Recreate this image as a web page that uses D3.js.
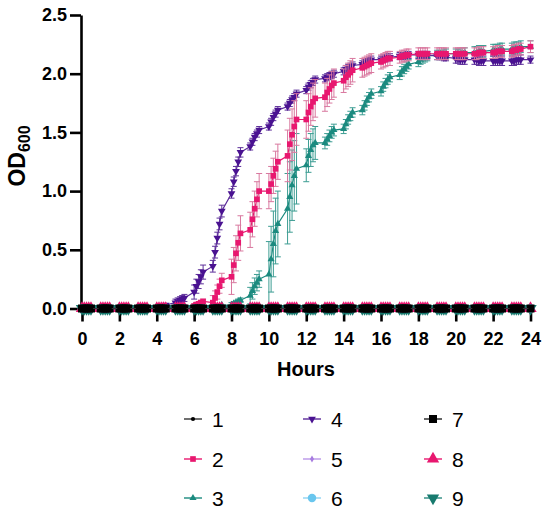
<!DOCTYPE html>
<html>
<head>
<meta charset="utf-8">
<script src="https://cdn.jsdelivr.net/npm/d3@7"></script>
<style>
  body { margin: 0; background: #fff; }
  svg { font-family: Arial, "Liberation Sans", sans-serif; }
</style>
</head>
<body>
<svg id="chart" width="550" height="516"></svg>
<script>
// Read times: one cluster of readings at the start of every hour.
const readHours = [0, 1, 2, 3, 4, 5, 6, 7, 8, 9, 10, 11, 12, 13, 14, 15, 16, 17, 18, 19, 20, 21, 22, 23, 24];
const readOffsets = [0, 0.12, 0.24, 0.36, 0.48];

const hourTicks = [0, 2, 4, 6, 8, 10, 12, 14, 16, 18, 20, 22, 24];
const odTicks = [0, 0.5, 1.0, 1.5, 2.0, 2.5];

// OD600 per hourly cluster, series 2 (pink)
const od2 = [
  [0, 0, 0, 0, 0], [0, 0, 0, 0, 0], [0, 0, 0, 0, 0], [0, 0, 0, 0, 0], [0, 0, 0, 0, 0],
  [0, 0, 0.01, 0.01, 0.01],
  [0.02, 0.03, 0.04, 0.05, 0.06],
  [0.05, 0.09, 0.14, 0.19, 0.24],
  [0.27, 0.37, 0.47, 0.56, 0.64],
  [0.67, 0.76, 0.85, 0.93, 1.00],
  [1.00, 1.06, 1.13, 1.19, 1.25],
  [1.30, 1.40, 1.48, 1.55, 1.61],
  [1.61, 1.67, 1.72, 1.76, 1.79],
  [1.80, 1.84, 1.87, 1.90, 1.92],
  [1.94, 1.97, 1.99, 2.01, 2.03],
  [2.05, 2.06, 2.07, 2.08, 2.09],
  [2.10, 2.11, 2.12, 2.13, 2.13],
  [2.14, 2.15, 2.15, 2.16, 2.16],
  [2.17, 2.17, 2.17, 2.17, 2.17],
  [2.17, 2.17, 2.17, 2.17, 2.17],
  [2.17, 2.17, 2.17, 2.17, 2.17],
  [2.17, 2.17, 2.18, 2.18, 2.18],
  [2.18, 2.18, 2.19, 2.19, 2.19],
  [2.19, 2.20, 2.20, 2.21, 2.21],
  [2.23]
];
const sd2 = [0, 0, 0, 0, 0, 0.01, 0.02, 0.06, 0.15, 0.15, 0.15, 0.22, 0.16, 0.12, 0.10,
  0.08, 0.06, 0.05, 0.05, 0.05, 0.05, 0.05, 0.05, 0.05, 0.05];

// series 3 (teal)
const od3 = [
  [0, 0, 0, 0, 0], [0, 0, 0, 0, 0], [0, 0, 0, 0, 0], [0, 0, 0, 0, 0], [0, 0, 0, 0, 0],
  [0, 0, 0, 0, 0], [0, 0, 0, 0, 0],
  [0, 0.01, 0.01, 0.02, 0.03],
  [0.03, 0.04, 0.05, 0.06, 0.07],
  [0.11, 0.15, 0.19, 0.22, 0.25],
  [0.29, 0.42, 0.55, 0.66, 0.72],
  [0.85, 0.95, 1.05, 1.13, 1.19],
  [1.22, 1.30, 1.35, 1.39, 1.41],
  [1.41, 1.44, 1.47, 1.50, 1.52],
  [1.53, 1.57, 1.61, 1.64, 1.67],
  [1.69, 1.73, 1.77, 1.80, 1.83],
  [1.85, 1.89, 1.92, 1.95, 1.97],
  [1.99, 2.02, 2.04, 2.06, 2.08],
  [2.10, 2.12, 2.13, 2.14, 2.15],
  [2.16, 2.16, 2.16, 2.17, 2.17],
  [2.17, 2.17, 2.17, 2.18, 2.18],
  [2.18, 2.18, 2.19, 2.19, 2.19],
  [2.20, 2.20, 2.20, 2.21, 2.21],
  [2.21, 2.22, 2.22, 2.22, 2.23],
  [2.23]
];
const sd3 = [0, 0, 0, 0, 0, 0, 0, 0.01, 0.02, 0.07, 0.28, 0.30, 0.14, 0.05, 0.04,
  0.04, 0.04, 0.04, 0.04, 0.04, 0.04, 0.05, 0.05, 0.05, 0.05];

// series 4 (purple)
const od4 = [
  [0, 0, 0, 0, 0], [0, 0, 0, 0, 0], [0, 0, 0, 0, 0],
  [0, 0, 0, 0.005, 0.005],
  [0.01, 0.01, 0.02, 0.02, 0.03],
  [0.05, 0.06, 0.07, 0.08, 0.09],
  [0.14, 0.19, 0.23, 0.27, 0.31],
  [0.36, 0.48, 0.60, 0.72, 0.83],
  [0.98, 1.08, 1.17, 1.25, 1.33],
  [1.38, 1.42, 1.46, 1.49, 1.52],
  [1.55, 1.59, 1.63, 1.66, 1.69],
  [1.72, 1.75, 1.78, 1.80, 1.83],
  [1.86, 1.89, 1.91, 1.93, 1.95],
  [1.96, 1.97, 1.98, 1.99, 2.00],
  [2.02, 2.04, 2.05, 2.06, 2.07],
  [2.08, 2.09, 2.10, 2.11, 2.12],
  [2.12, 2.13, 2.13, 2.14, 2.14],
  [2.15, 2.15, 2.15, 2.16, 2.16],
  [2.16, 2.16, 2.16, 2.16, 2.16],
  [2.15, 2.15, 2.15, 2.14, 2.14],
  [2.13, 2.13, 2.12, 2.12, 2.12],
  [2.12, 2.12, 2.11, 2.11, 2.11],
  [2.11, 2.11, 2.11, 2.11, 2.11],
  [2.11, 2.11, 2.12, 2.12, 2.12],
  [2.12]
];
const sd4 = [0, 0, 0, 0.005, 0.01, 0.03, 0.06, 0.05, 0.04, 0.03, 0.03, 0.03, 0.03, 0.03, 0.03,
  0.03, 0.03, 0.03, 0.03, 0.03, 0.04, 0.04, 0.04, 0.04, 0.03];

// controls 1, 5, 6, 7, 8, 9 stay flat at zero
const controlOD = [0, 0, 0, 0, 0, 0, 0, 0, 0, 0, 0, 0, 0, 0, 0, 0, 0, 0, 0, 0, 0, 0, 0, 0, 0];

const legendNames = ['1', '2', '3', '4', '5', '6', '7', '8', '9'];

// Look of every series (marker, size, colours)
const styles = {
  '1': { symbol: d3.symbolCircle, size: 14, color: '#000000', line: '#333333', bar: '#333333' },
  '2': { symbol: d3.symbolSquare, size: 32, color: '#e8176f', line: '#e8176f', bar: '#d9789f' },
  '3': { symbol: d3.symbolTriangle, size: 22, color: '#1b8a7f', line: '#1b8a7f', bar: '#3d9d93' },
  '4': { symbol: d3.symbolTriangle, size: 26, color: '#4a1291', line: '#5b2a9a', bar: '#5d2f99', flip: true },
  '5': { symbol: d3.symbolDiamond, size: 14, color: '#a77ce0', line: '#b995e8', bar: '#b995e8' },
  '6': { symbol: d3.symbolCircle, size: 56, color: '#69c6ee', line: '#8fd3f2', bar: '#8fd3f2' },
  '7': { symbol: d3.symbolSquare, size: 64, color: '#000000', line: '#222222', bar: '#222222' },
  '8': { symbol: d3.symbolTriangle, size: 66, color: '#e8176f', line: '#e8176f', bar: '#e8176f' },
  '9': { symbol: d3.symbolTriangle, size: 66, color: '#177a6e', line: '#2b8a80', bar: '#2b8a80', flip: true }
};

const svg = d3.select('#chart');

const x = d3.scaleLinear().domain([0, 24]).range([82, 530.5]);
const y = d3.scaleLinear().domain([0, 2.5]).range([308.5, 15]);

// Turn the hourly clusters into single readings.
function readings(values, sd) {
  return readHours.flatMap((h, i) => {
    const level = values[i];
    const cluster = Array.isArray(level) ? level : readOffsets.slice(0, h === 24 ? 1 : 5).map(() => level);
    return cluster.map((v, j) => ({ t: h + readOffsets[j], v: v, sd: sd ? sd[i] : 0 }));
  });
}

const series = {
  '1': readings(controlOD),
  '2': readings(od2, sd2),
  '3': readings(od3, sd3),
  '4': readings(od4, sd4),
  '5': readings(controlOD),
  '6': readings(controlOD),
  '7': readings(controlOD),
  '8': readings(controlOD),
  '9': readings(controlOD)
};

// Axes
const yAxis = d3.axisLeft(y).tickValues(odTicks).tickFormat(d3.format('.1f'))
  .tickSize(11).tickSizeOuter(0).tickPadding(3);
const xAxis = d3.axisBottom(x).tickValues(hourTicks).tickFormat(d3.format('d'))
  .tickSize(13).tickSizeOuter(0).tickPadding(11);

const gx = svg.append('g').attr('transform', 'translate(0,308.5)').call(xAxis);
const gy = svg.append('g').attr('transform', 'translate(81,0)').call(yAxis);

[gx, gy].forEach(g => {
  g.selectAll('path, line').attr('stroke', '#000').attr('stroke-width', 2.6);
  g.selectAll('text').attr('font-size', 18).attr('font-weight', 'bold').attr('fill', '#000');
});
gx.select('.domain').attr('d', `M${x(0) - 1.5},0H${x(24)}`);

// Axis titles
svg.append('text')
  .attr('x', 306).attr('y', 376)
  .attr('text-anchor', 'middle')
  .attr('font-size', 20).attr('font-weight', 'bold')
  .text('Hours');

const yTitle = svg.append('text')
  .attr('transform', 'translate(25,156) rotate(-90)')
  .attr('text-anchor', 'middle')
  .attr('font-weight', 'bold');
yTitle.append('tspan').attr('font-size', 23).text('OD');
yTitle.append('tspan').attr('font-size', 16).attr('dy', 5).text('600');

// Growing cultures first, the flat controls form the band on top at zero
const drawOrder = ['3', '4', '2', '9', '8', '6', '5', '7', '1'];
const plot = svg.append('g');

const line = d3.line().x(d => x(d.t)).y(d => y(d.v));

function markerPath(style) {
  return d3.symbol().type(style.symbol).size(style.size)();
}

drawOrder.forEach(name => {
  const style = styles[name];
  const data = series[name];
  const g = plot.append('g');

  g.append('path')
    .datum(data)
    .attr('d', line)
    .attr('fill', 'none')
    .attr('stroke', style.line)
    .attr('stroke-width', 1.2);

  // error bars with caps
  const bars = g.selectAll('.bar')
    .data(data.filter(d => d.sd > 0.012))
    .join('g')
    .attr('stroke', style.bar)
    .attr('stroke-width', 1);
  bars.append('line')
    .attr('x1', d => x(d.t)).attr('x2', d => x(d.t))
    .attr('y1', d => y(d.v - d.sd)).attr('y2', d => y(d.v + d.sd));
  bars.append('line')
    .attr('x1', d => x(d.t) - 3).attr('x2', d => x(d.t) + 3)
    .attr('y1', d => y(d.v + d.sd)).attr('y2', d => y(d.v + d.sd));
  bars.append('line')
    .attr('x1', d => x(d.t) - 3).attr('x2', d => x(d.t) + 3)
    .attr('y1', d => y(d.v - d.sd)).attr('y2', d => y(d.v - d.sd));

  g.selectAll('.mark')
    .data(data)
    .join('path')
    .attr('d', markerPath(style))
    .attr('transform', d => `translate(${x(d.t)},${y(d.v)})${style.flip ? ' rotate(180)' : ''}`)
    .attr('fill', style.color);
});

// Legend: three columns of three
const legendCols = [193, 312, 433];
const legendRows = [419, 459, 498];

const legend = svg.append('g')
  .selectAll('g')
  .data(legendNames)
  .join('g')
  .attr('transform', (d, i) => `translate(${legendCols[Math.floor(i / 3)]},${legendRows[i % 3]})`);

legend.append('line')
  .attr('x1', -9).attr('x2', 9)
  .attr('stroke', d => styles[d].line)
  .attr('stroke-width', 1.4);

legend.append('path')
  .attr('d', d => markerPath(styles[d]))
  .attr('transform', d => styles[d].flip ? 'rotate(180)' : null)
  .attr('fill', d => styles[d].color);

legend.append('text')
  .attr('x', 19).attr('y', 7.5)
  .attr('font-size', 21)
  .text(d => d);
</script>
</body>
</html>
